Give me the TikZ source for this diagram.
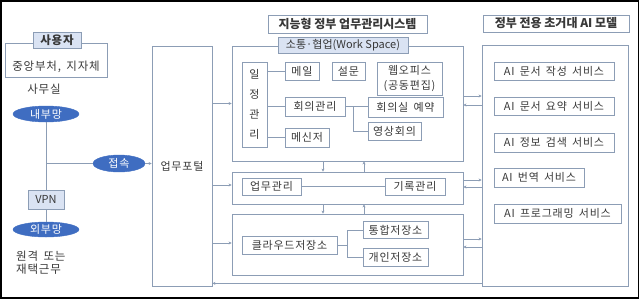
\documentclass[tikz,border=0pt]{standalone}
\usepackage{fontspec}
\setmainfont{Noto Sans CJK KR}[LetterSpace=7, WordSpace=1.6]
\newfontfamily\ttlfont{Noto Sans CJK KR}
\usetikzlibrary{shapes.geometric,arrows.meta,calc}
\definecolor{bcol}{HTML}{8C9DB5}
\definecolor{lfill}{HTML}{DAE3F3}
\definecolor{efill}{HTML}{3F6DC1}
\definecolor{tcol}{HTML}{383838}
\tikzset{
  wh/.style 2 args={minimum width=#1, minimum height=#2},
  box/.style={draw=bcol, line width=0.8pt, inner sep=0pt, text=tcol, font=\fontsize{11}{13}\selectfont},
  lbl/.style={box, fill=lfill},
  ttl/.style={box, fill=white, font=\ttlfont\fontsize{12}{14}\selectfont\bfseries},
  oval/.style={ellipse, draw=efill, fill=efill, inner sep=0pt, text=white, font=\fontsize{11}{13}\selectfont},
  txt/.style={inner sep=0pt, text=tcol, font=\fontsize{11.5}{14}\selectfont},
  con/.style={draw=bcol, line width=0.8pt},
  arr/.style={con, -{Stealth[length=3pt,width=3pt]}},
}
\begin{document}
\begin{tikzpicture}[x=1pt,y=-1pt]
\useasboundingbox (0,0) rectangle (640,301);
\draw[black, line width=1.6pt] (1,1.2) rectangle (638.5,298);

% left side
\node[box, wh={102pt}{34pt}] (user) at (56,60) {};
\node[lbl, wh={48pt}{16pt}, font=\fontsize{11.5}{14}\selectfont\bfseries] (userl) at (57,40) {사용자};
\node[txt] (usert) at (56,66.5) {중앙부처, 지자체};
\node[txt] (office) at (44,89) {사무실};
\node[oval, wh={66pt}{16pt}] (naebu) at (46,114) {내부망};
\node[lbl, wh={36pt}{19pt}, font=\ttlfont\fontsize{11}{13}\selectfont] (vpn) at (46,199.5) {VPN};
\node[oval, wh={66pt}{15pt}] (oebu) at (46,229.5) {외부망};
\node[txt, align=left, anchor=north west, font=\fontsize{11.5}{12.5}\selectfont] (remote) at (16,251) {원격 또는\\재택근무};
\node[oval, wh={52pt}{17pt}] (jeop) at (119,163.5) {접속};

\draw[con] (naebu.south) -- (vpn.north);
\draw[con] (vpn.south) -- (oebu.north);
\draw[con] (naebu.south |- jeop.west) -- (jeop.west);

% portal
\node[box, wh={60pt}{240pt}] (portal) at (182,166) {업무포털};
\draw[arr] (jeop.east) -- (portal.west |- jeop.east);

% titles
\node[ttl, wh={159pt}{18pt}] (t1) at (347.5,24) {지능형 정부 업무관리시스템};
\node[ttl, wh={146pt}{17pt}] (t2) at (556,23.5) {정부 전용 초거대 AI 모델};

% work space box
\node[box, wh={231pt}{115pt}] (ws) at (347.5,103.5) {};
\node[lbl, wh={130pt}{16pt}, font=\ttlfont\fontsize{11}{13}\selectfont] (wsl) at (343,45) {소통·협업(Work Space)};
\node[box, wh={25pt}{85pt}, align=center, font=\fontsize{11}{20}\selectfont] (ilj) at (254.5,104.5) {일\\정\\관\\리};
\node[box, wh={34pt}{18pt}] (mail) at (302,71) {메일};
\node[box, wh={33pt}{18pt}] (survey) at (348.5,71) {설문};
\node[box, wh={65pt}{33pt}, align=center, font=\fontsize{11}{15}\selectfont] (web) at (409.5,78.5) {웹오피스\\(공동편집)};
\node[box, wh={60pt}{19pt}] (meet) at (315,106.5) {회의관리};
\node[box, wh={75pt}{20pt}] (room) at (405.5,107) {회의실 예약};
\node[box, wh={53pt}{18pt}] (video) at (394.5,131) {영상회의};
\node[box, wh={44pt}{19pt}] (msg) at (307,137.5) {메신저};
\draw[con] (ilj.east |- mail.west) -- (mail.west);
\draw[con] (ilj.east |- meet.west) -- (meet.west);
\draw[con] (ilj.east |- msg.west) -- (msg.west);
\draw[con] (meet.east) -- (room.west |- meet.east);
\draw[con] ([xshift=8pt]meet.east) |- (video.west);

% middle box
\node[box, wh={231pt}{32pt}] (mid) at (347.5,188) {};
\node[box, wh={59pt}{17pt}] (task) at (271.5,186.5) {업무관리};
\node[box, wh={60pt}{17pt}] (rec) at (415,186.5) {기록관리};
\draw[con] (task.east) -- (rec.west);

% bottom box
\node[box, wh={231pt}{61pt}] (bot) at (347.5,244.5) {};
\node[box, wh={95pt}{18pt}] (cloud) at (289.5,245) {클라우드저장소};
\node[box, wh={65pt}{17pt}] (tong) at (395.5,230) {통합저장소};
\node[box, wh={65pt}{18pt}] (gae) at (395.5,257) {개인저장소};
\draw[con] (cloud.east) -- ++(10,0) |- (tong.west);
\draw[con] ([xshift=10pt]cloud.east) |- (gae.west);

% portal to boxes
\draw[arr] (portal.east |- ws.west) -- (ws.west);
\draw[arr] (portal.east |- 0,185) -- (mid.west |- 0,185);
\draw[arr] (portal.east |- 0,243) -- (bot.west |- 0,243);

% vertical arrows
\draw[arr] ([xshift=-24.5pt]ws.south) -- ([xshift=-24.5pt]mid.north);
\draw[arr] ([xshift=16.5pt]mid.north) -- ([xshift=16.5pt]ws.south);
\draw[arr] ([xshift=-24.5pt]mid.south) -- ([xshift=-24.5pt]bot.north);
\draw[arr] ([xshift=16.5pt]bot.north) -- ([xshift=16.5pt]mid.south);

% AI box
\node[box, wh={146pt}{241pt}] (ai) at (555,165.5) {};
\node[box, wh={120pt}{18pt}] (s1) at (554,71) {AI 문서 작성 서비스};
\node[box, wh={120pt}{18pt}] (s2) at (554,106) {AI 문서 요약 서비스};
\node[box, wh={120pt}{19pt}] (s3) at (554,142.5) {AI 정보 검색 서비스};
\node[box, wh={90pt}{19pt}] (s4) at (539,177.5) {AI 번역 서비스};
\node[box, wh={127pt}{19pt}] (s5) at (557.5,213.5) {AI 프로그래밍 서비스};

% system <-> AI
\draw[arr] ([yshift=7.5pt]ws.east) -- ([yshift=7.5pt]ws.east -| ai.west);
\draw[arr] ([yshift=-1.5pt]ws.east -| ai.west) -- ([yshift=-1.5pt]ws.east);
\draw[arr] ([yshift=8pt]mid.east) -- ([yshift=8pt]mid.east -| ai.west);
\draw[arr] ([yshift=1pt]mid.east -| ai.west) -- ([yshift=1pt]mid.east);
\draw[arr] ([yshift=5.5pt]bot.east) -- ([yshift=5.5pt]bot.east -| ai.west);
\draw[arr] ([yshift=-2.5pt]bot.east -| ai.west) -- ([yshift=-2.5pt]bot.east);
\draw[arr] ([yshift=3pt]ai.south west) -- ([yshift=3pt]ai.south west -| portal.east);
\end{tikzpicture}
\end{document}
